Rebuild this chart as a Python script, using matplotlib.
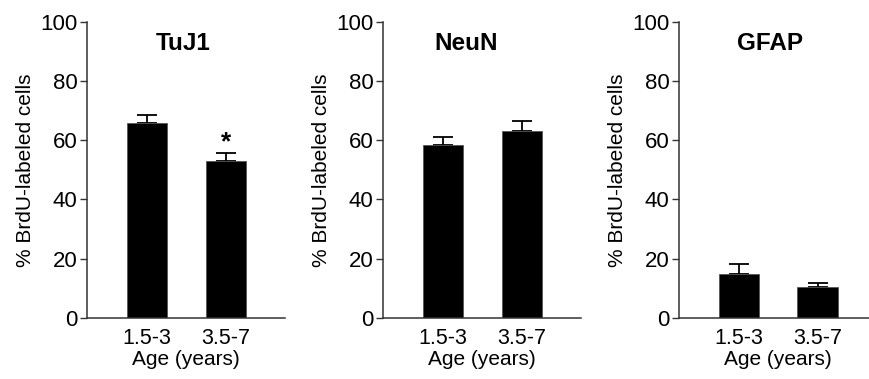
import matplotlib
matplotlib.use("Agg")
import matplotlib.pyplot as plt

plt.rcParams['font.family'] = ['Liberation Sans', 'DejaVu Sans']

ages = ['1.5-3', '3.5-7']
markers = ['TuJ1', 'NeuN', 'GFAP']
means = {
    'TuJ1': [65.7, 53.1],
    'NeuN': [58.5, 63.1],
    'GFAP': [14.7, 10.4],
}
sems = {
    'TuJ1': [2.9, 2.5],
    'NeuN': [2.5, 3.4],
    'GFAP': [3.5, 1.3],
}
signif = {'TuJ1': ['', '*'], 'NeuN': ['', ''], 'GFAP': ['', '']}

fig = plt.figure(figsize=(8.7, 3.79), dpi=100)
lefts = [0.1003, 0.4406, 0.7805]
title_x = [0.46, 0.29, 0.40]
x = [0, 1]

for i, m in enumerate(markers):
    ax = fig.add_axes([lefts[i], 0.161, 0.2275, 0.782])
    ax.bar(x, means[m], width=0.51, color='black', edgecolor='#555555', linewidth=0.6, zorder=2)
    err = [[0] * len(x), sems[m]]
    ax.errorbar(x, means[m], yerr=err, fmt='none', ecolor='black', elinewidth=1.3,
                capsize=7.5, capthick=1.3, zorder=1)
    for xi, mv, sv, s in zip(x, means[m], sems[m], signif[m]):
        if s:
            ax.text(xi, mv + sv - 0.5, s, ha='center', va='bottom', fontsize=19, fontweight='bold')
    ax.set_xlim(-0.76, 1.755)
    ax.set_ylim(0, 100)
    ax.set_yticks([0, 20, 40, 60, 80, 100])
    ax.set_xticks(x)
    ax.set_xticklabels(ages)
    ax.tick_params(axis='x', length=0, pad=7, labelsize=15.5)
    ax.tick_params(axis='y', length=5, width=1, pad=2, labelsize=16, color='#333333')
    for sp in ['top', 'right']:
        ax.spines[sp].set_visible(False)
    for sp in ['left', 'bottom']:
        ax.spines[sp].set_color('#333333')
        ax.spines[sp].set_linewidth(1.1)
    ax.spines['bottom'].set_zorder(3)
    ax.set_ylabel('% BrdU-labeled cells', fontsize=15, labelpad=4)
    ax.set_xlabel('Age (years)', fontsize=15, labelpad=1)
    ax.text(title_x[i], 92.7, m, ha='center', va='center', fontsize=17.5, fontweight='bold')

fig.savefig('out.png', dpi=100)
